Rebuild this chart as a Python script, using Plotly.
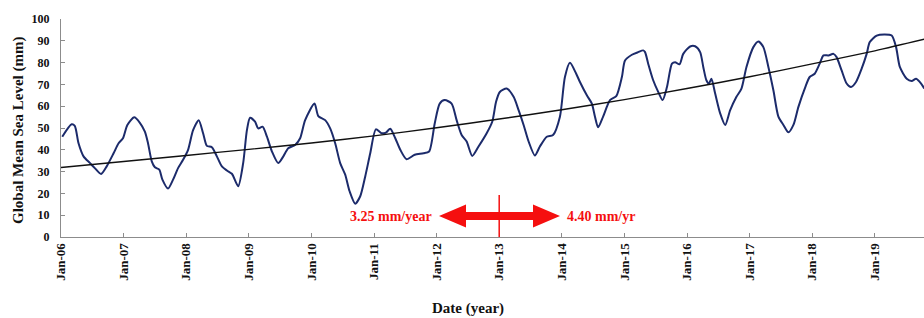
import plotly.graph_objects as go

# ---------------- data ----------------
tick_years = [2006, 2007, 2008, 2009, 2010, 2011, 2012, 2013, 2014, 2015, 2016, 2017, 2018, 2019]
tick_labels = ["Jan-06", "Jan-07", "Jan-08", "Jan-09", "Jan-10", "Jan-11", "Jan-12",
               "Jan-13", "Jan-14", "Jan-15", "Jan-16", "Jan-17", "Jan-18", "Jan-19"]

gmsl_time = [
    2006.02, 2006.17, 2006.22, 2006.28, 2006.36, 2006.46, 2006.54, 2006.64, 2006.73, 2006.84,
    2006.92, 2006.99, 2007.06, 2007.17, 2007.26, 2007.34, 2007.39, 2007.45, 2007.50, 2007.57,
    2007.62, 2007.71, 2007.79, 2007.87, 2007.95, 2008.03, 2008.11, 2008.20, 2008.27, 2008.33,
    2008.41, 2008.49, 2008.57, 2008.65, 2008.73, 2008.83, 2008.91, 2008.97, 2009.02, 2009.10,
    2009.15, 2009.22, 2009.29, 2009.37, 2009.47, 2009.55, 2009.63, 2009.74, 2009.82, 2009.90,
    2010.05, 2010.11, 2010.22, 2010.30, 2010.38, 2010.46, 2010.54, 2010.61, 2010.70, 2010.78,
    2010.86, 2010.94, 2011.03, 2011.12, 2011.19, 2011.26, 2011.34, 2011.42, 2011.52, 2011.65,
    2011.79, 2011.88, 2011.97, 2012.05, 2012.13, 2012.24, 2012.32, 2012.40, 2012.48, 2012.57,
    2012.67, 2012.80, 2012.89, 2012.95, 2013.01, 2013.12, 2013.23, 2013.31, 2013.39, 2013.47,
    2013.57, 2013.65, 2013.76, 2013.86, 2013.97, 2014.05, 2014.13, 2014.23, 2014.29, 2014.40,
    2014.48, 2014.53, 2014.58, 2014.66, 2014.77, 2014.87, 2014.96, 2015.01, 2015.12, 2015.22,
    2015.30, 2015.33, 2015.38, 2015.46, 2015.54, 2015.61, 2015.68, 2015.76, 2015.81, 2015.88,
    2015.94, 2016.05, 2016.13, 2016.21, 2016.26, 2016.31, 2016.35, 2016.39, 2016.45, 2016.53,
    2016.61, 2016.69, 2016.79, 2016.87, 2016.95, 2017.06, 2017.14, 2017.22, 2017.30, 2017.38,
    2017.46, 2017.54, 2017.62, 2017.70, 2017.78, 2017.89, 2017.96, 2018.04, 2018.12, 2018.18,
    2018.26, 2018.34, 2018.39, 2018.47, 2018.55, 2018.62, 2018.70, 2018.79, 2018.87, 2018.92,
    2019.03, 2019.16, 2019.27, 2019.34, 2019.40, 2019.51, 2019.59, 2019.66, 2019.74, 2019.79,
]
gmsl_mm = [
    46.0, 51.7, 51.0, 43.0, 37.0, 34.0, 31.6, 28.9, 32.4, 38.4,
    43.0, 45.3, 51.4, 54.9, 52.4, 48.3, 43.0, 34.7, 32.0, 30.9,
    26.3, 22.2, 26.3, 31.6, 35.4, 40.0, 49.0, 53.6, 47.6, 41.8,
    41.2, 37.0, 32.4, 30.5, 29.0, 23.3, 33.9, 49.0, 54.7, 52.9,
    49.8, 50.6, 46.0, 39.2, 33.9, 36.9, 40.7, 42.2, 45.3, 53.6,
    61.2, 55.5, 53.6, 49.8, 43.0, 33.9, 28.6, 21.0, 15.3, 18.7,
    27.8, 38.4, 49.4, 47.6, 47.9, 49.7, 45.3, 40.0, 35.7, 37.7,
    38.4, 39.2, 52.1, 61.2, 62.8, 61.2, 53.6, 46.8, 43.8, 37.2,
    41.5, 47.6, 53.0, 62.0, 66.5, 68.1, 64.3, 58.2, 51.4, 43.8,
    37.4, 41.5, 46.0, 46.8, 55.2, 73.4, 79.9, 74.9, 71.1, 65.0,
    61.2, 55.2, 50.3, 55.2, 62.8, 64.6, 73.4, 81.0, 83.6, 84.8,
    85.6, 84.8, 79.5, 71.9, 66.6, 62.8, 68.8, 79.5, 80.2, 79.2,
    84.0, 87.4, 87.5, 84.8, 78.0, 71.9, 70.4, 72.6, 65.8, 56.7,
    51.4, 58.2, 64.3, 68.1, 78.0, 87.1, 89.7, 87.1, 78.0, 67.3,
    55.2, 51.4, 48.0, 51.4, 59.7, 68.8, 73.4, 74.9, 79.5, 83.3,
    83.3, 84.0, 82.5, 76.4, 70.4, 68.8, 71.1, 77.2, 84.0, 89.4,
    92.4, 92.9, 92.4, 87.1, 78.0, 72.6, 71.6, 72.6, 70.4, 68.1,
]

trend_time = [2006.0, 2007.0, 2008.0, 2009.0, 2010.0, 2011.0, 2012.0, 2013.0,
              2014.0, 2015.0, 2016.0, 2017.0, 2018.0, 2019.0, 2019.79]
trend_mm = [31.9, 34.6, 37.4, 40.2, 43.1, 46.4, 50.1, 54.1,
            58.4, 63.0, 68.1, 73.5, 79.4, 85.4, 90.7]

rate_labels = ["3.25 mm/year", "4.40 mm/yr"]
break_year = 2013

# ---------------- figure ----------------
W, H = 924, 318
ML, MR, MT, MB = 61, 0, 19, 81
PW, PH = W - ML - MR, H - MT - MB


def px(xp):  # window pixel x -> paper x
    return (xp - ML) / PW


def py(yp):  # window pixel y -> paper y
    return (H - MB - yp) / PH


SERIF = "Liberation Serif, Times New Roman, serif"
RED = "#f50f0f"

fig = go.Figure()
fig.add_trace(go.Scatter(
    x=gmsl_time, y=gmsl_mm, mode="lines",
    line=dict(color="#1c2b6b", width=2, shape="spline", smoothing=0.7),
    hoverinfo="skip", showlegend=False))
fig.add_trace(go.Scatter(
    x=trend_time, y=trend_mm, mode="lines",
    line=dict(color="#111111", width=1.4, shape="spline", smoothing=0.8),
    hoverinfo="skip", showlegend=False))

# double arrow (paper coords from pixel geometry)
cy, hh, sh = 216, 11.5, 4
xl, xr, hl = 439, 560, 27
pts = [(xl, cy), (xl + hl, cy - hh), (xl + hl, cy - sh), (xr - hl, cy - sh),
       (xr - hl, cy - hh), (xr, cy), (xr - hl, cy + hh), (xr - hl, cy + sh),
       (xl + hl, cy + sh), (xl + hl, cy + hh)]
path = "M " + " L ".join(f"{px(a):.5f},{py(b):.5f}" for a, b in pts) + " Z"
fig.add_shape(type="path", path=path, xref="paper", yref="paper",
              fillcolor=RED, line=dict(color=RED, width=0), layer="above")
fig.add_shape(type="line", xref="x", yref="paper", x0=break_year, x1=break_year,
              y0=0, y1=py(195), line=dict(color=RED, width=1.5))

fig.add_annotation(text=rate_labels[0], xref="paper", yref="paper",
                   x=px(434), y=py(216), xanchor="right", yanchor="middle",
                   showarrow=False, font=dict(family=SERIF, size=14, color=RED, weight="bold"))
fig.add_annotation(text=rate_labels[1], xref="paper", yref="paper",
                   x=px(565), y=py(216), xanchor="left", yanchor="middle",
                   showarrow=False, font=dict(family=SERIF, size=14, color=RED, weight="bold"))

# axis titles
fig.add_annotation(text="Date (year)", xref="paper", yref="paper",
                   x=px(468), y=py(308), xanchor="center", yanchor="middle",
                   showarrow=False, font=dict(family=SERIF, size=15, color="#111", weight="bold"))
fig.add_annotation(text="Global Mean Sea Level (mm)", xref="paper", yref="paper",
                   x=px(18), y=py(131), xanchor="center", yanchor="middle", textangle=-90,
                   showarrow=False, font=dict(family=SERIF, size=15, color="#111", weight="bold"))

fig.update_layout(
    width=W, height=H, margin=dict(l=ML, r=MR, t=MT, b=MB, autoexpand=False),
    paper_bgcolor="white", plot_bgcolor="white",
    xaxis=dict(range=[2006, 2019.786], tickmode="array", tickvals=tick_years, ticktext=tick_labels,
               tickangle=-90, showgrid=False, zeroline=False, showline=True, automargin=False,
               linecolor="#8c8c8c", linewidth=1, ticks="inside", ticklen=4, tickcolor="#8c8c8c",
               tickfont=dict(family=SERIF, size=13, color="#111", weight="bold")),
    yaxis=dict(range=[0, 100], tickvals=[0, 10, 20, 30, 40, 50, 60, 70, 80, 90, 100],
               showgrid=False, zeroline=False, showline=True, automargin=False,
               linecolor="#8c8c8c", linewidth=1, ticks="inside", ticklen=4, tickcolor="#8c8c8c",
               ticklabelstandoff=8,
               tickfont=dict(family=SERIF, size=12, color="#111", weight="bold")),
)

# remove the browser's default 8px body margin so the figure fills the window
fig.write_html("out.html", config={"displayModeBar": False},
               post_script="document.body.style.margin='0';document.body.style.overflow='hidden';")
